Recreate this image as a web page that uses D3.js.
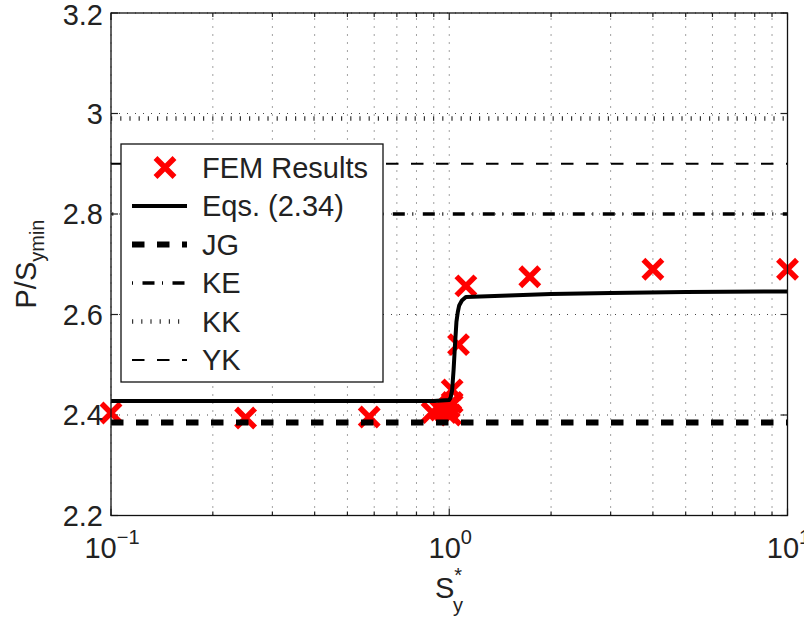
<!DOCTYPE html>
<html>
<head>
<meta charset="utf-8">
<script src="https://cdn.jsdelivr.net/npm/d3@7"></script>
<style>
  body { margin: 0; background: #fff; }
  svg { display: block; }
  text { font-family: "Liberation Sans", Arial, Helvetica, sans-serif; fill: #222; }
</style>
</head>
<body>
<svg id="chart" width="804" height="622"></svg>
<script>
// FEM results: normalized yield stress S_y* vs. normalized load P/S_ymin
const femX = [0.1, 0.25, 0.58, 0.89, 0.94, 0.98, 1.0, 1.01, 1.02, 1.02, 1.065, 1.12, 1.73, 4.0, 10];
const femY = [2.404, 2.394, 2.396, 2.405, 2.41, 2.405, 2.415, 2.40, 2.425, 2.45, 2.54, 2.657, 2.675, 2.69, 2.69];

// Eqs. (2.34) curve
const eqX = [0.1, 0.3, 0.6, 0.9, 1.0, 1.01, 1.02, 1.03, 1.04, 1.05, 1.06, 1.07, 1.09, 1.12, 1.5, 2, 3, 5, 10];
const eqY = [2.428, 2.428, 2.428, 2.428, 2.43, 2.435, 2.45, 2.49, 2.54, 2.585, 2.605, 2.618, 2.628, 2.635, 2.638, 2.641, 2.643, 2.645, 2.646];

// Reference solutions (constant levels)
const refNames = ["JG", "KE", "KK", "YK"];
const refValues = [2.385, 2.8, 2.99, 2.9];

// Axis ticks
const yTicks = [2.2, 2.4, 2.6, 2.8, 3.0, 3.2];
const yTickLabels = ["2.2", "2.4", "2.6", "2.8", "3", "3.2"];
const xTicks = [0.1, 1, 10];
const xTickExponents = ["\u22121", "0", "1"];
const xMinorTicks = [0.2, 0.3, 0.4, 0.5, 0.6, 0.7, 0.8, 0.9, 2, 3, 4, 5, 6, 7, 8, 9];

const FS = 29;   // main font size
const FS2 = 20;  // sub/superscript size

const svg = d3.select("#chart");
svg.append("rect").attr("width", 804).attr("height", 622).attr("fill", "#fff");

const L = 111, R = 787.5, T = 13, B = 515.5;
const x = d3.scaleLog().domain([0.1, 10]).range([L, R]);
const y = d3.scaleLinear().domain([2.2, 3.2]).range([B, T]);

// line styles for the reference levels
const refStyle = {
  JG: { width: 6, dash: "12.5,12.5", offset: 0, color: "#000" },
  KE: { width: 3.5, dash: "1,9.5,12,7.5", offset: 28.7, color: "#000" },
  KK: { width: 4.5, dash: "1.2,8", offset: 0, color: "#333" },
  YK: { width: 2.2, dash: "12.5,12.5", offset: 0, color: "#000" }
};

// grid
const grid = svg.append("g").attr("stroke", "#444").attr("stroke-width", 1).attr("stroke-dasharray", "1,7");
xTicks.concat(xMinorTicks).forEach(v => {
  grid.append("line").attr("x1", x(v)).attr("x2", x(v)).attr("y1", B).attr("y2", T);
});
yTicks.forEach(v => {
  grid.append("line").attr("x1", L).attr("x2", R).attr("y1", y(v)).attr("y2", y(v));
});

// ticks on all four sides, pointing inward
const tk = svg.append("g").attr("stroke", "#222").attr("stroke-width", 1.2);
xTicks.forEach(v => {
  tk.append("line").attr("x1", x(v)).attr("x2", x(v)).attr("y1", B).attr("y2", B - 7);
  tk.append("line").attr("x1", x(v)).attr("x2", x(v)).attr("y1", T).attr("y2", T + 7);
});
xMinorTicks.forEach(v => {
  tk.append("line").attr("x1", x(v)).attr("x2", x(v)).attr("y1", B).attr("y2", B - 4);
  tk.append("line").attr("x1", x(v)).attr("x2", x(v)).attr("y1", T).attr("y2", T + 4);
});
yTicks.forEach(v => {
  tk.append("line").attr("x1", L).attr("x2", L + 7).attr("y1", y(v)).attr("y2", y(v));
  tk.append("line").attr("x1", R).attr("x2", R - 7).attr("y1", y(v)).attr("y2", y(v));
});

// FEM markers
const fem = femX.map((v, i) => [v, femY[i]]);
function cross(g, cx, cy) {
  const h = 9.5;
  g.append("path")
    .attr("d", `M${cx - h},${cy - h}L${cx + h},${cy + h}M${cx - h},${cy + h}L${cx + h},${cy - h}`)
    .attr("stroke", "#ff0000").attr("stroke-width", 5.5).attr("fill", "none");
}
const mg = svg.append("g");
fem.forEach(d => cross(mg, x(d[0]), y(d[1])));

// Eqs. (2.34)
const eq = eqX.map((v, i) => [v, eqY[i]]);
svg.append("path").datum(eq)
  .attr("d", d3.line().x(d => x(d[0])).y(d => y(d[1])))
  .attr("fill", "none").attr("stroke", "#000").attr("stroke-width", 4)
  .attr("stroke-linejoin", "round");

// reference levels
refNames.forEach((n, i) => {
  const s = refStyle[n];
  svg.append("line")
    .attr("x1", x(0.1)).attr("x2", x(10)).attr("y1", y(refValues[i])).attr("y2", y(refValues[i]))
    .attr("stroke", s.color).attr("stroke-width", s.width)
    .attr("stroke-dasharray", s.dash).attr("stroke-dashoffset", s.offset);
});

// frame
svg.append("rect").attr("x", L).attr("y", T).attr("width", R - L).attr("height", B - T)
  .attr("fill", "none").attr("stroke", "#111").attr("stroke-width", 1.3);

// y tick labels
yTicks.forEach((v, i) => {
  svg.append("text").attr("x", 103).attr("y", Math.max(y(v), 15)).attr("dy", "0.36em")
    .attr("text-anchor", "end").attr("font-size", FS).text(yTickLabels[i]);
});

// x tick labels (powers of ten)
xTicks.forEach((v, i) => {
  const t = svg.append("text").attr("x", x(v) + 1).attr("y", 558)
    .attr("text-anchor", "middle").attr("font-size", FS);
  t.append("tspan").text("10");
  t.append("tspan").attr("dy", -14).attr("font-size", FS2).text(xTickExponents[i]);
});

// axis labels
const xl = svg.append("text").attr("x", 449).attr("y", 598).attr("text-anchor", "middle").attr("font-size", FS);
xl.append("tspan").text("S");
xl.append("tspan").attr("dy", -16).attr("font-size", FS2).text("*");
xl.append("tspan").attr("dx", -9).attr("dy", 30).attr("font-size", FS2).text("y");

const yl = svg.append("text").attr("transform", "translate(36,264) rotate(-90)")
  .attr("text-anchor", "middle").attr("font-size", FS);
yl.append("tspan").text("P/S");
yl.append("tspan").attr("dy", 8).attr("font-size", FS2).text("ymin");

// legend
const lg = svg.append("g");
lg.append("rect").attr("x", 121).attr("y", 144).attr("width", 262).attr("height", 238)
  .attr("fill", "#fff").attr("stroke", "#111").attr("stroke-width", 1.3);
const rows = ["FEM Results", "Eqs. (2.34)"].concat(refNames);
const rowY = i => 167.5 + i * 38.5;
rows.forEach((name, i) => {
  const yy = rowY(i);
  if (i === 0) {
    cross(lg, 165, yy);
  } else if (i === 1) {
    lg.append("line").attr("x1", 132).attr("x2", 187).attr("y1", yy).attr("y2", yy)
      .attr("stroke", "#000").attr("stroke-width", 4);
  } else {
    const s = refStyle[name];
    lg.append("line").attr("x1", 132).attr("x2", 187).attr("y1", yy).attr("y2", yy)
      .attr("stroke", s.color).attr("stroke-width", s.width)
      .attr("stroke-dasharray", s.dash).attr("stroke-dashoffset", 0);
  }
  lg.append("text").attr("x", 202).attr("y", yy).attr("dy", "0.36em")
    .attr("font-size", FS).text(name);
});
</script>
</body>
</html>
